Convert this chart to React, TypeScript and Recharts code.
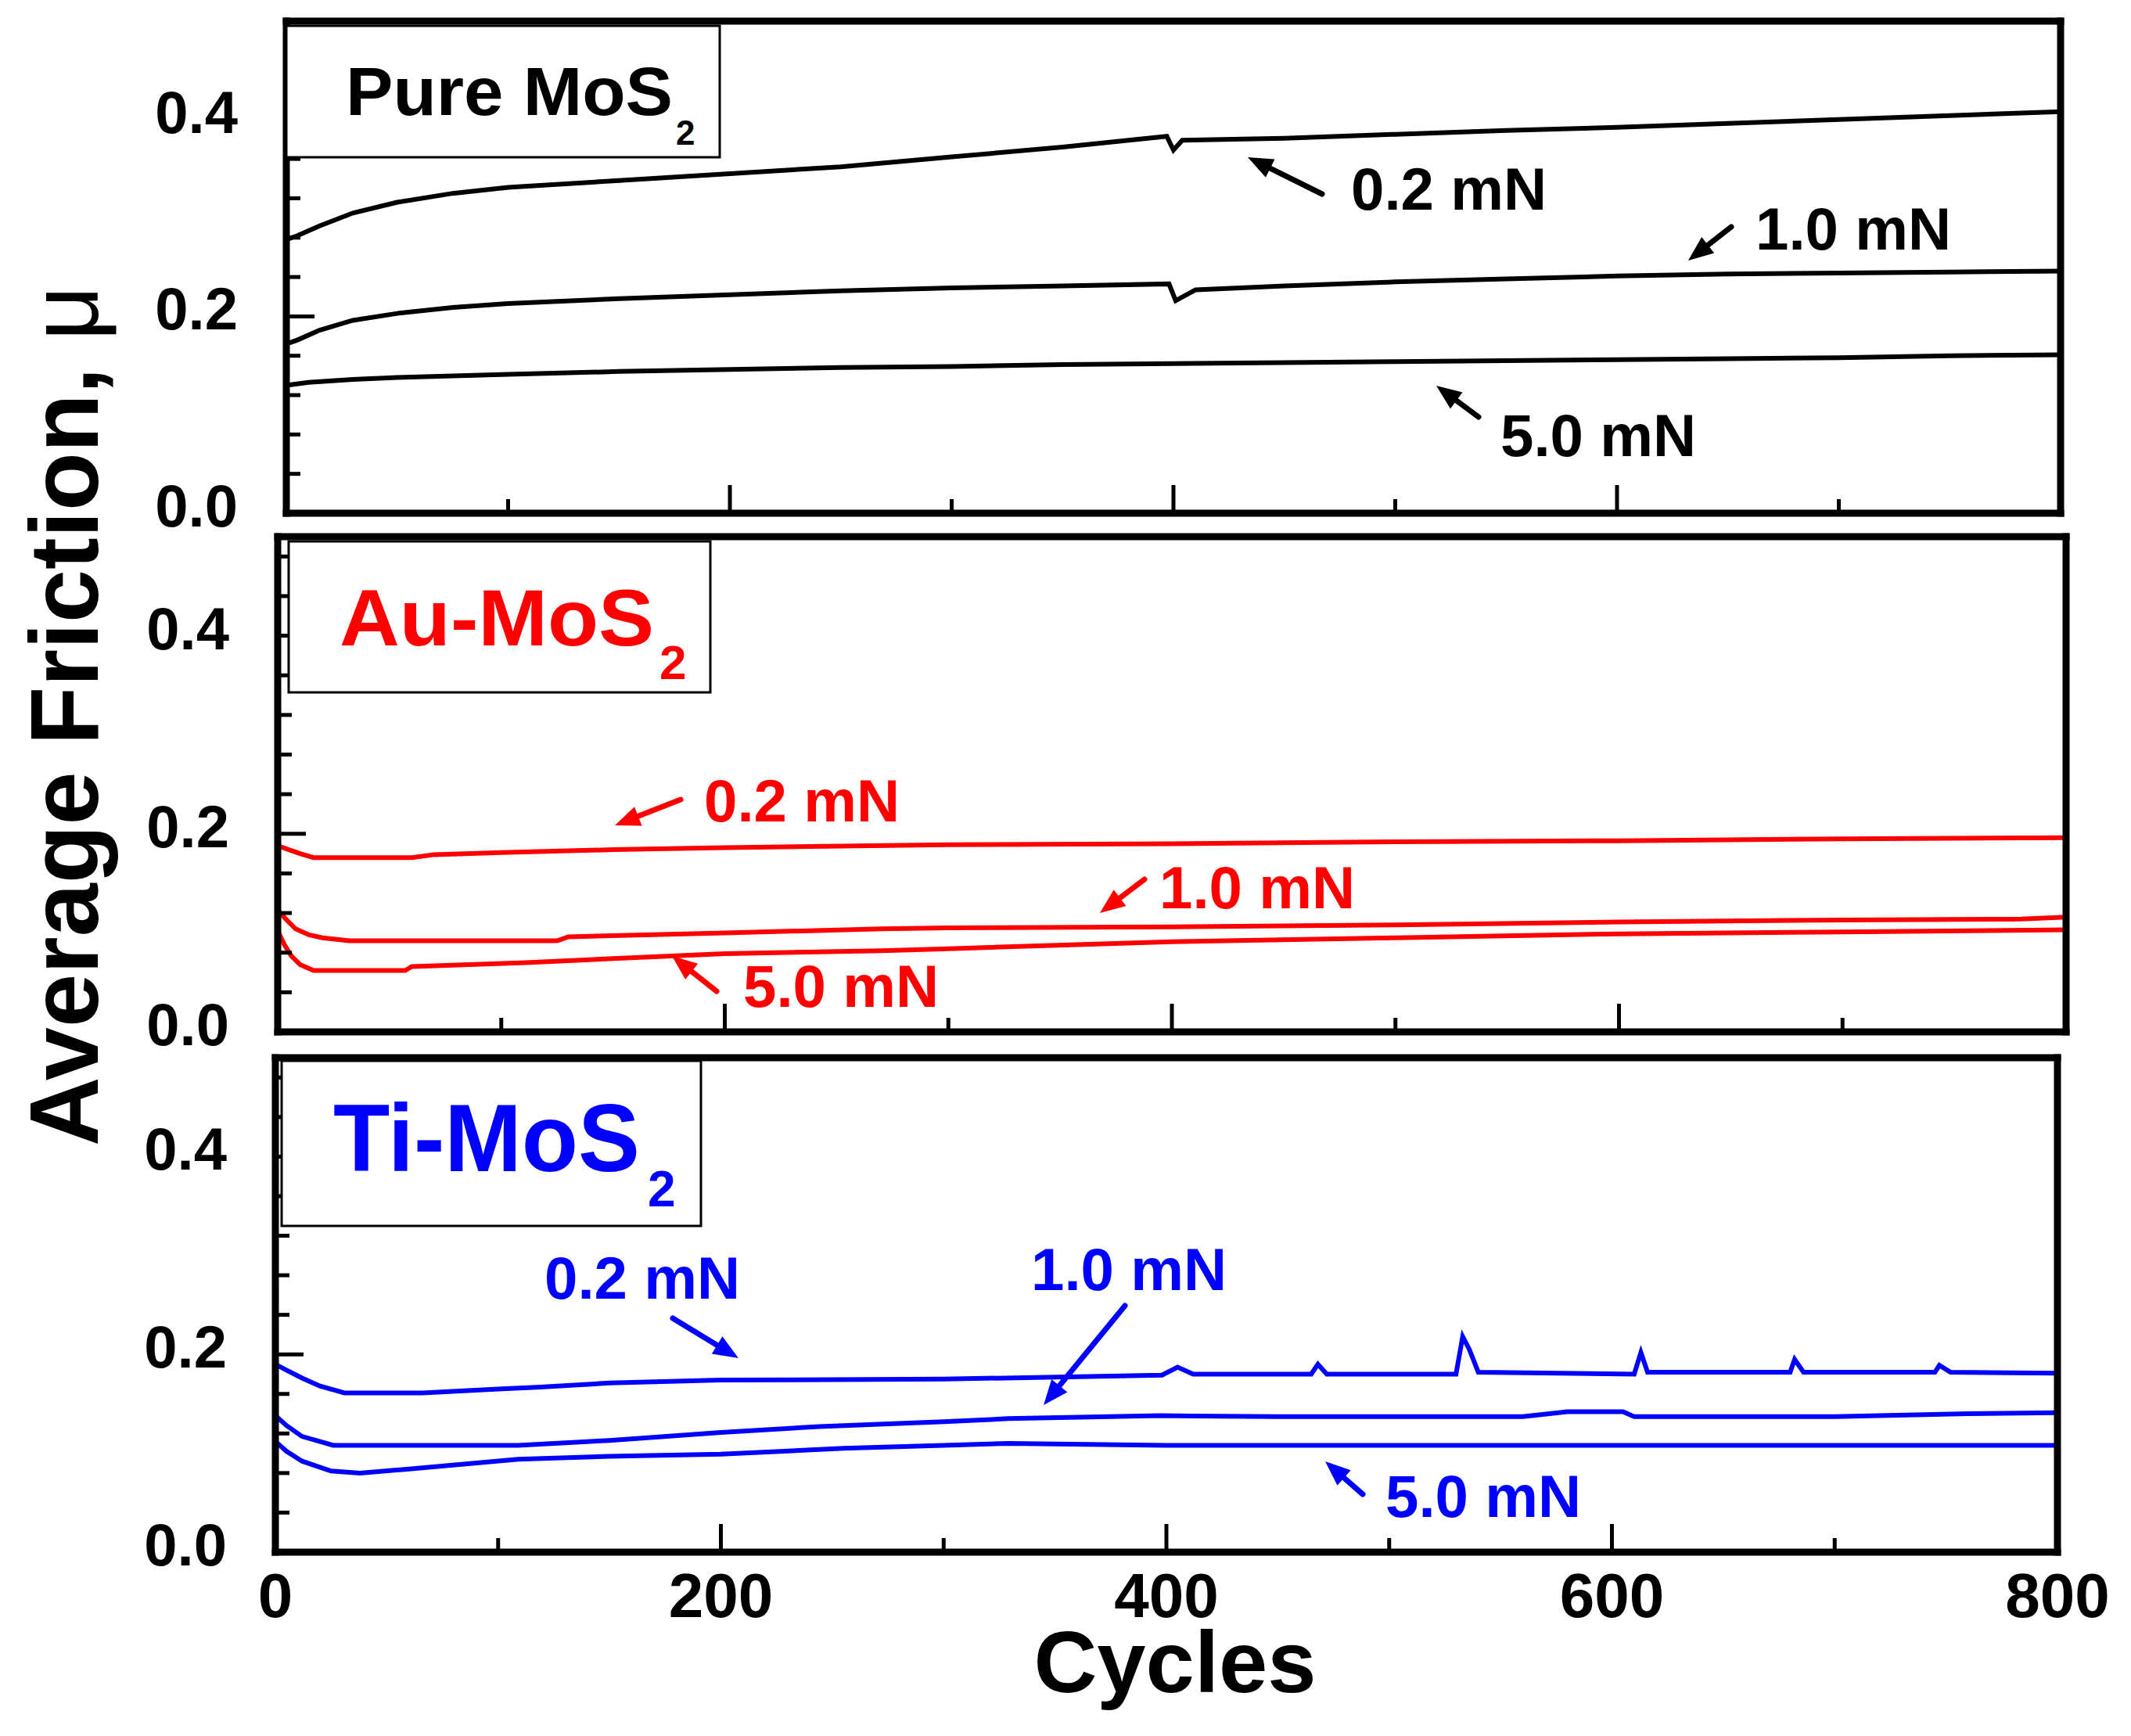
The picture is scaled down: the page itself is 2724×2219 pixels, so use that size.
import React from 'react';
import { LineChart, Line, XAxis, YAxis } from 'recharts';

const W = 2724;
const H = 2219;
const FONT = 'Arial, "Liberation Sans", sans-serif';

// axis ticks
const xTicks = [0, 100, 200, 300, 400, 500, 600, 700, 800];
const yTicks = [0, 0.04, 0.08, 0.12, 0.16, 0.2, 0.24, 0.28, 0.32, 0.36, 0.4, 0.44, 0.48];

// Pure MoS2 (cycle, friction)
const pure02 = [[0, 0.278], [5, 0.282], [15, 0.292], [30, 0.305], [50, 0.316], [75, 0.325], [100, 0.331], [150, 0.338], [200, 0.345], [250, 0.352], [300, 0.362], [350, 0.372], [397, 0.383], [400, 0.369], [404, 0.379], [450, 0.381], [500, 0.385], [550, 0.389], [600, 0.392], [650, 0.396], [700, 0.4], [750, 0.404], [800, 0.408]];
const pure10 = [[0, 0.172], [5, 0.176], [15, 0.186], [30, 0.196], [50, 0.203], [75, 0.209], [100, 0.213], [150, 0.218], [200, 0.222], [250, 0.226], [300, 0.229], [350, 0.231], [398, 0.233], [401, 0.216], [410, 0.227], [450, 0.231], [500, 0.235], [550, 0.238], [600, 0.241], [650, 0.243], [700, 0.244], [750, 0.245], [800, 0.246]];
const pure50 = [[0, 0.13], [10, 0.133], [30, 0.136], [50, 0.138], [100, 0.141], [150, 0.144], [200, 0.146], [250, 0.148], [300, 0.149], [350, 0.151], [400, 0.152], [450, 0.153], [500, 0.154], [550, 0.155], [600, 0.156], [650, 0.157], [700, 0.158], [750, 0.16], [800, 0.161]];

// Au-MoS2
const au02 = [[0, 0.188], [5, 0.184], [10, 0.18], [16, 0.176], [60, 0.176], [70, 0.179], [100, 0.181], [150, 0.184], [200, 0.186], [300, 0.189], [400, 0.19], [500, 0.192], [600, 0.193], [700, 0.195], [800, 0.196]];
const au10 = [[0, 0.123], [4, 0.113], [8, 0.104], [14, 0.098], [20, 0.095], [32, 0.092], [125, 0.092], [130, 0.096], [200, 0.1], [270, 0.104], [300, 0.105], [400, 0.106], [500, 0.108], [600, 0.111], [700, 0.113], [780, 0.114], [800, 0.116]];
const au50 = [[0, 0.102], [3, 0.088], [6, 0.077], [10, 0.068], [16, 0.062], [57, 0.062], [60, 0.066], [111, 0.07], [150, 0.074], [200, 0.079], [270, 0.082], [300, 0.084], [400, 0.091], [500, 0.095], [600, 0.099], [700, 0.101], [800, 0.103]];

// Ti-MoS2
const ti02 = [[0, 0.19], [5, 0.184], [12, 0.176], [20, 0.168], [31, 0.161], [66, 0.161], [100, 0.165], [119, 0.167], [150, 0.171], [200, 0.174], [300, 0.175], [398, 0.179], [405, 0.187], [412, 0.18], [465, 0.18], [468, 0.19], [472, 0.18], [530, 0.18], [533, 0.218], [536, 0.205], [540, 0.182], [610, 0.18], [613, 0.202], [616, 0.182], [680, 0.182], [682, 0.195], [686, 0.182], [745, 0.182], [747, 0.189], [752, 0.182], [800, 0.181]];
const ti10 = [[0, 0.138], [5, 0.128], [12, 0.117], [26, 0.108], [109, 0.108], [150, 0.113], [200, 0.121], [244, 0.127], [300, 0.132], [329, 0.135], [397, 0.138], [450, 0.137], [560, 0.137], [580, 0.142], [605, 0.142], [610, 0.137], [700, 0.137], [760, 0.14], [800, 0.141]];
const ti50 = [[0, 0.112], [5, 0.102], [12, 0.092], [25, 0.082], [38, 0.08], [60, 0.084], [109, 0.094], [150, 0.097], [200, 0.099], [255, 0.105], [300, 0.108], [329, 0.11], [400, 0.108], [500, 0.108], [600, 0.108], [700, 0.108], [800, 0.108]];

const toPts = (arr: number[][]) => arr.map(([x, y]) => ({ x, y }));

const panels = [
  { key: 'pure', color: '#000000', series: [pure02, pure10, pure50], frame: { left: 366, right: 2634, top: 27, bottom: 656 } },
  { key: 'au', color: '#ff0000', series: [au02, au10, au50], frame: { left: 355, right: 2641, top: 686, bottom: 1319 } },
  { key: 'ti', color: '#0000ff', series: [ti02, ti10, ti50], frame: { left: 352, right: 2630, top: 1352, bottom: 1984 } },
];

const isMajorX = (v: number) => v % 200 === 0;
const isMajorY = (v: number) => Math.abs(v * 5 - Math.round(v * 5)) < 1e-6;

function BottomTick({ x, y, payload, labels }: any) {
  const major = isMajorX(payload.value);
  return (
    <g>
      <line x1={x} y1={y} x2={x} y2={y - (major ? 36 : 18)} stroke="#000" strokeWidth={5} />
      {labels && major && (
        <text x={x} y={y + 83} textAnchor="middle" fontSize={80} fontWeight="bold" fontFamily={FONT} fill="#000">
          {payload.value}
        </text>
      )}
    </g>
  );
}

function TopTick({ x, y, payload }: any) {
  const major = isMajorX(payload.value);
  return <line x1={x} y1={y} x2={x} y2={y + (major ? 36 : 18)} stroke="#000" strokeWidth={5} />;
}

function LeftTick({ x, y, payload }: any) {
  const major = isMajorY(payload.value);
  return (
    <g>
      <line x1={x} y1={y} x2={x + (major ? 36 : 18)} y2={y} stroke="#000" strokeWidth={5} />
      {major && (
        <text x={x - 62} y={y + 17} textAnchor="end" fontSize={76} fontWeight="bold" fontFamily={FONT} fill="#000">
          {payload.value.toFixed(1)}
        </text>
      )}
    </g>
  );
}

function RightTick({ x, y, payload }: any) {
  const major = isMajorY(payload.value);
  return <line x1={x} y1={y} x2={x - (major ? 36 : 18)} y2={y} stroke="#000" strokeWidth={5} />;
}

function Panel({ panel, last }: any) {
  const f = panel.frame;
  const axisLine = { stroke: '#000', strokeWidth: 9, strokeLinecap: 'square' };
  // axes are 1px thick, so margins are reduced by 1 to keep the plot area on the frame
  return (
    <div style={{ position: 'absolute', left: 0, top: 0, width: W, height: H, pointerEvents: 'none' }}>
      <LineChart
        width={W}
        height={H}
        margin={{ left: f.left - 1, right: W - f.right - 1, top: f.top - 1, bottom: H - f.bottom - 1 }}
      >
        <XAxis xAxisId="b" dataKey="x" type="number" domain={[0, 800]} ticks={xTicks} interval={0}
          orientation="bottom" height={1} tickSize={0} tickMargin={0} tickLine={false} axisLine={axisLine}
          tick={(p: any) => <BottomTick {...p} labels={last} />} />
        <XAxis xAxisId="t" dataKey="x" type="number" domain={[0, 800]} ticks={xTicks} interval={0}
          orientation="top" height={1} tickSize={0} tickMargin={0} tickLine={false} axisLine={axisLine}
          tick={(p: any) => <TopTick {...p} />} />
        <YAxis yAxisId="l" type="number" domain={[0, 0.5]} ticks={yTicks} interval={0}
          orientation="left" width={1} tickSize={0} tickMargin={0} tickLine={false} axisLine={axisLine}
          tick={(p: any) => <LeftTick {...p} />} />
        <YAxis yAxisId="r" type="number" domain={[0, 0.5]} ticks={yTicks} interval={0}
          orientation="right" width={1} tickSize={0} tickMargin={0} tickLine={false} axisLine={axisLine}
          tick={(p: any) => <RightTick {...p} />} />
        {panel.series.map((s: number[][], i: number) => (
          <Line key={i} xAxisId="b" yAxisId="l" data={toPts(s)} dataKey="y" type="linear"
            stroke={panel.color} strokeWidth={6} dot={false} isAnimationActive={false} />
        ))}
      </LineChart>
    </div>
  );
}

function Arrow({ x1, y1, x2, y2, color }: any) {
  const dx = x2 - x1;
  const dy = y2 - y1;
  const len = Math.sqrt(dx * dx + dy * dy);
  const ux = dx / len;
  const uy = dy / len;
  const hl = 32;
  const hw = 13;
  const bx = x2 - ux * hl;
  const by = y2 - uy * hl;
  const pts = `${x2},${y2} ${bx - uy * hw},${by + ux * hw} ${bx + uy * hw},${by - ux * hw}`;
  return (
    <g>
      <line x1={x1} y1={y1} x2={bx} y2={by} stroke={color} strokeWidth={7} strokeLinecap="round" />
      <polygon points={pts} fill={color} />
    </g>
  );
}

function Note({ x, y, text, color }: any) {
  return (
    <text x={x} y={y} fontSize={76} fontWeight="bold" fontFamily={FONT} fill={color}
      textLength={250} lengthAdjust="spacingAndGlyphs">{text}</text>
  );
}

function Overlay() {
  return (
    <svg width={W} height={H} style={{ position: 'absolute', left: 0, top: 0 }}>
      {/* sample boxes */}
      <rect x={366} y={33} width={554} height={168} fill="#fff" stroke="#000" strokeWidth={3} />
      <text x={442} y={147} fontSize={88} fontWeight="bold" fontFamily={FONT} fill="#000" textLength={418} lengthAdjust="spacingAndGlyphs">Pure MoS</text>
      <text x={864} y={185} fontSize={44} fontWeight="bold" fontFamily={FONT} fill="#000">2</text>

      <rect x={369} y={692} width={539} height={193} fill="#fff" stroke="#000" strokeWidth={3} />
      <text x={434} y={825} fontSize={102} fontWeight="bold" fontFamily={FONT} fill="#ff0000" textLength={402} lengthAdjust="spacingAndGlyphs">Au-MoS</text>
      <text x={843} y={868} fontSize={62} fontWeight="bold" fontFamily={FONT} fill="#ff0000">2</text>

      <rect x={360} y={1356} width={536} height={211} fill="#fff" stroke="#000" strokeWidth={3} />
      <text x={426} y={1497} fontSize={122} fontWeight="bold" fontFamily={FONT} fill="#0000ff" textLength={392} lengthAdjust="spacingAndGlyphs">Ti-MoS</text>
      <text x={828} y={1542} fontSize={64} fontWeight="bold" fontFamily={FONT} fill="#0000ff">2</text>

      {/* load labels */}
      <Note x={1727} y={268} text="0.2 mN" color="#000" />
      <Arrow x1={1690} y1={248} x2={1595} y2={201} color="#000" />
      <Note x={2244} y={319} text="1.0 mN" color="#000" />
      <Arrow x1={2213} y1={290} x2={2158} y2={333} color="#000" />
      <Note x={1918} y={583} text="5.0 mN" color="#000" />
      <Arrow x1={1890} y1={533} x2={1836} y2={493} color="#000" />

      <Note x={900} y={1050} text="0.2 mN" color="#ff0000" />
      <Arrow x1={870} y1={1022} x2={786} y2={1055} color="#ff0000" />
      <Note x={1482} y={1161} text="1.0 mN" color="#ff0000" />
      <Arrow x1={1463} y1={1124} x2={1406} y2={1167} color="#ff0000" />
      <Note x={950} y={1287} text="5.0 mN" color="#ff0000" />
      <Arrow x1={916} y1={1267} x2={859} y2={1222} color="#ff0000" />

      <Note x={696} y={1660} text="0.2 mN" color="#0000ff" />
      <Arrow x1={860} y1={1685} x2={944} y2={1736} color="#0000ff" />
      <Note x={1318} y={1649} text="1.0 mN" color="#0000ff" />
      <Arrow x1={1438} y1={1669} x2={1334} y2={1796} color="#0000ff" />
      <Note x={1771} y={1939} text="5.0 mN" color="#0000ff" />
      <Arrow x1={1742} y1={1910} x2={1694} y2={1868} color="#0000ff" />

      {/* axis titles */}
      <text x={1502} y={2163} textAnchor="middle" fontSize={112} fontWeight="bold" fontFamily={FONT} fill="#000">Cycles</text>
      <text transform="translate(125, 915) rotate(-90)" textAnchor="middle" fontSize={124} fontWeight="bold"
        fontFamily={FONT} fill="#000" textLength={1100} lengthAdjust="spacingAndGlyphs">
        Average Friction, <tspan fontWeight="normal">μ</tspan>
      </text>
    </svg>
  );
}

export default function App() {
  return (
    <div style={{ position: 'absolute', left: 0, top: 0, width: W, height: H, background: '#fff' }}>
      {panels.map((p, i) => (
        <Panel key={p.key} panel={p} last={i === panels.length - 1} />
      ))}
      <Overlay />
    </div>
  );
}
